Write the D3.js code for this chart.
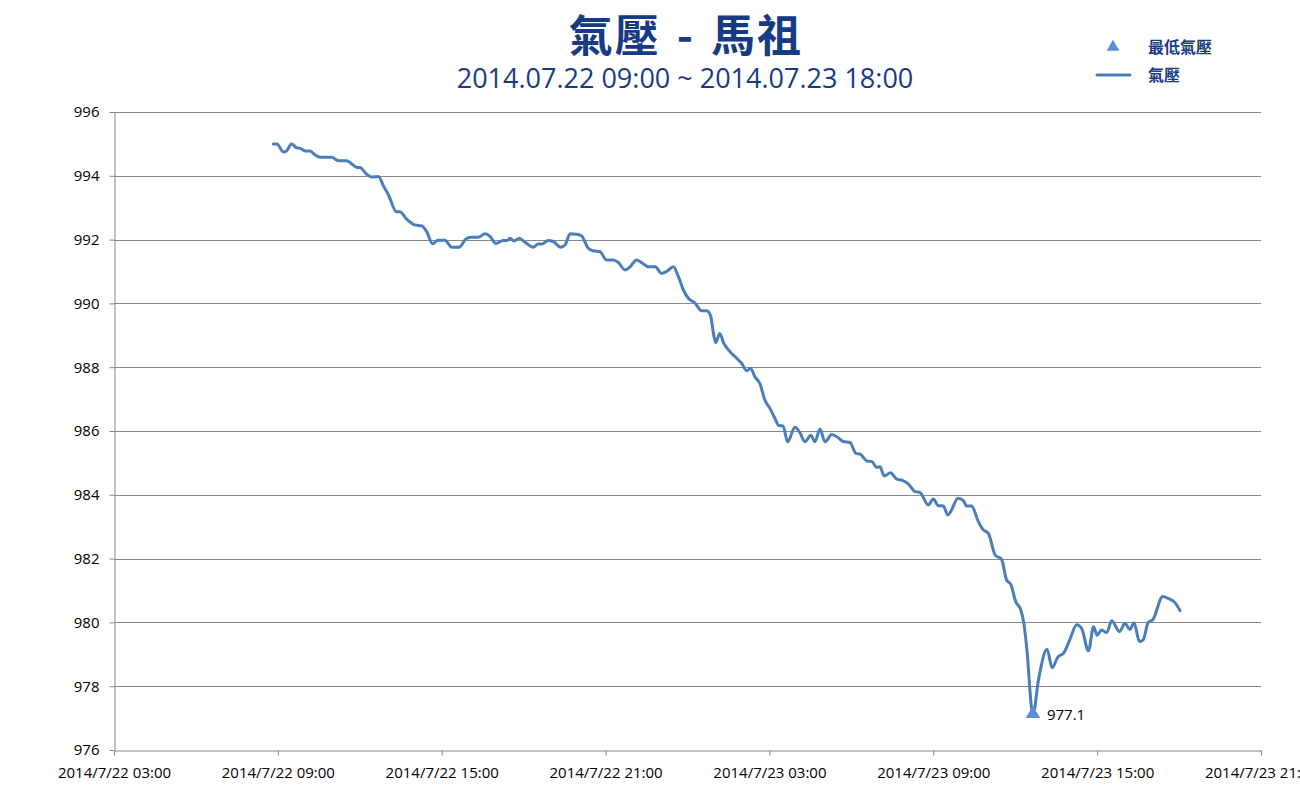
<!DOCTYPE html>
<html>
<head>
<meta charset="utf-8">
<script src="https://cdn.jsdelivr.net/npm/d3@7"></script>
<style>
    body { margin: 0; background: #ffffff; }
    #chart { width: 1300px; height: 800px; }
</style>
</head>
<body>
<div id="chart"></div>
<script>

//--- Daten -------------------------------------------------------------------------------------------- //

var chartTitle = '氣壓 - 馬祖';
var chartSubtitle = '2014.07.22 09:00 ~ 2014.07.23 18:00';
var legendLabels = ['最低氣壓', '氣壓'];

var yTicks = [976, 978, 980, 982, 984, 986, 988, 990, 992, 994, 996];
var xTicks = ['2014-07-22 03:00', '2014-07-22 09:00', '2014-07-22 15:00', '2014-07-22 21:00',
              '2014-07-23 03:00', '2014-07-23 09:00', '2014-07-23 15:00', '2014-07-23 21:00'];

var times = [
    '2014-07-22 08:50','2014-07-22 08:58','2014-07-22 09:12','2014-07-22 09:19','2014-07-22 09:30','2014-07-22 09:41',
    '2014-07-22 09:49','2014-07-22 10:00','2014-07-22 10:11','2014-07-22 10:22','2014-07-22 10:33','2014-07-22 10:58',
    '2014-07-22 11:13','2014-07-22 11:31','2014-07-22 11:46','2014-07-22 11:54','2014-07-22 12:00','2014-07-22 12:15',
    '2014-07-22 12:26','2014-07-22 12:41','2014-07-22 12:52','2014-07-22 13:03','2014-07-22 13:21','2014-07-22 13:28',
    '2014-07-22 13:43','2014-07-22 14:01','2014-07-22 14:16','2014-07-22 14:27','2014-07-22 14:40','2014-07-22 14:52',
    '2014-07-22 15:07','2014-07-22 15:22','2014-07-22 15:38','2014-07-22 15:55','2014-07-22 16:06','2014-07-22 16:20',
    '2014-07-22 16:35','2014-07-22 16:46','2014-07-22 16:59','2014-07-22 17:15','2014-07-22 17:23','2014-07-22 17:30',
    '2014-07-22 17:39','2014-07-22 17:50','2014-07-22 18:03','2014-07-22 18:21','2014-07-22 18:32','2014-07-22 18:40',
    '2014-07-22 18:54','2014-07-22 19:05','2014-07-22 19:21','2014-07-22 19:31','2014-07-22 19:42','2014-07-22 19:56',
    '2014-07-22 20:07','2014-07-22 20:22','2014-07-22 20:33','2014-07-22 20:48','2014-07-22 21:02','2014-07-22 21:17',
    '2014-07-22 21:28','2014-07-22 21:43','2014-07-22 21:54','2014-07-22 22:08','2014-07-22 22:19','2014-07-22 22:34',
    '2014-07-22 22:49','2014-07-22 23:03','2014-07-22 23:14','2014-07-22 23:29','2014-07-22 23:40','2014-07-22 23:51',
    '2014-07-23 00:02','2014-07-23 00:16','2014-07-23 00:31','2014-07-23 00:42','2014-07-23 00:51','2014-07-23 00:57',
    '2014-07-23 01:02','2014-07-23 01:11','2014-07-23 01:19','2014-07-23 01:33','2014-07-23 01:48','2014-07-23 01:59',
    '2014-07-23 02:10','2014-07-23 02:19','2014-07-23 02:28','2014-07-23 02:39','2014-07-23 02:50','2014-07-23 03:01',
    '2014-07-23 03:12','2014-07-23 03:21','2014-07-23 03:30','2014-07-23 03:40','2014-07-23 03:56','2014-07-23 04:07',
    '2014-07-23 04:18','2014-07-23 04:31','2014-07-23 04:40','2014-07-23 04:51','2014-07-23 05:02','2014-07-23 05:17',
    '2014-07-23 05:31','2014-07-23 05:42','2014-07-23 05:57','2014-07-23 06:10','2014-07-23 06:20','2014-07-23 06:34',
    '2014-07-23 06:45','2014-07-23 06:56','2014-07-23 07:03','2014-07-23 07:12','2014-07-23 07:26','2014-07-23 07:40',
    '2014-07-23 07:51','2014-07-23 08:05','2014-07-23 08:20','2014-07-23 08:31','2014-07-23 08:49','2014-07-23 09:00',
    '2014-07-23 09:11','2014-07-23 09:22','2014-07-23 09:32','2014-07-23 09:55','2014-07-23 10:06','2014-07-23 10:13',
    '2014-07-23 10:24','2014-07-23 10:39','2014-07-23 10:50','2014-07-23 11:01','2014-07-23 11:16','2014-07-23 11:30',
    '2014-07-23 11:41','2014-07-23 11:50','2014-07-23 12:02','2014-07-23 12:11','2014-07-23 12:19','2014-07-23 12:25',
    '2014-07-23 12:39','2014-07-23 12:51','2014-07-23 13:10','2014-07-23 13:21','2014-07-23 13:34','2014-07-23 13:46',
    '2014-07-23 13:59','2014-07-23 14:15','2014-07-23 14:26','2014-07-23 14:41','2014-07-23 14:52','2014-07-23 15:00',
    '2014-07-23 15:10','2014-07-23 15:21','2014-07-23 15:32','2014-07-23 15:49','2014-07-23 16:01','2014-07-23 16:12',
    '2014-07-23 16:21','2014-07-23 16:33','2014-07-23 16:41','2014-07-23 16:52','2014-07-23 17:03','2014-07-23 17:24',
    '2014-07-23 17:36','2014-07-23 17:51','2014-07-23 18:02'
];

var pressure = [
    995.00, 995.00, 994.75, 994.78, 995.00, 994.88,
    994.86, 994.78, 994.78, 994.65, 994.58, 994.58,
    994.47, 994.47, 994.33, 994.26, 994.26, 994.05,
    993.96, 993.98, 993.68, 993.40, 992.87, 992.87,
    992.64, 992.46, 992.43, 992.25, 991.87, 991.98,
    991.98, 991.76, 991.76, 992.04, 992.07, 992.07,
    992.18, 992.10, 991.88, 991.97, 991.97, 992.04,
    991.96, 992.04, 991.92, 991.76, 991.86, 991.86,
    991.97, 991.94, 991.76, 991.83, 992.18, 992.17,
    992.12, 991.73, 991.65, 991.62, 991.36, 991.36,
    991.28, 991.05, 991.15, 991.36, 991.28, 991.15,
    991.15, 990.94, 991.00, 991.15, 990.84, 990.42,
    990.16, 990.02, 989.77, 989.77, 989.60, 989.06,
    988.77, 989.06, 988.77, 988.49, 988.28, 988.12,
    987.89, 987.96, 987.70, 987.49, 986.97, 986.71,
    986.40, 986.17, 986.16, 985.66, 986.12, 985.95,
    985.66, 985.87, 985.66, 986.06, 985.66, 985.89,
    985.79, 985.67, 985.64, 985.30, 985.27, 985.06,
    985.04, 984.86, 984.88, 984.59, 984.69, 984.49,
    984.46, 984.34, 984.10, 984.07, 983.68, 983.87,
    983.66, 983.65, 983.37, 983.89, 983.82, 983.65,
    983.65, 983.16, 982.90, 982.79, 982.11, 981.98,
    981.33, 981.20, 980.62, 980.44, 979.97, 979.24,
    977.10, 978.19, 979.16, 978.58, 978.92, 979.03,
    979.42, 979.93, 979.81, 979.11, 979.86, 979.60,
    979.76, 979.68, 980.05, 979.71, 979.97, 979.78,
    979.99, 979.40, 979.45, 979.99, 980.10, 980.81,
    980.75, 980.62, 980.37
];

var Config = {
    Width: 1300,
    Height: 800,
    PlotLeft: 114,
    PlotRight: 1261,
    PlotTop: 112,
    PlotBottom: 750,
    LineColor: '#4A7EBB',
    MarkerColor: '#5B8ED6',
    TitleColor: '#173A84',
    GridColor: '#878787'
};

//--- Chart zeichnen ----------------------------------------------------------------------------------- //

function renderChart() {

    var parseTime = d3.timeParse('%Y-%m-%d %H:%M');
    var data = times.map(function (t, i) {
        return { time: parseTime(t), value: pressure[i] };
    });
    var tickDates = xTicks.map(parseTime);

    var svg = d3.select('#chart').append('svg')
        .attr('width', Config.Width)
        .attr('height', Config.Height)
        .attr('viewBox', '0 0 ' + Config.Width + ' ' + Config.Height);

    var x = d3.scaleTime()
        .domain([tickDates[0], tickDates[tickDates.length - 1]])
        .range([Config.PlotLeft, Config.PlotRight]);

    var y = d3.scaleLinear()
        .domain([yTicks[0], yTicks[yTicks.length - 1]])
        .range([Config.PlotBottom, Config.PlotTop]);

    // Gitterlinien
    svg.append('g')
        .attr('class', 'grid')
        .selectAll('line')
        .data(yTicks.slice(1))
        .enter().append('line')
        .attr('x1', Config.PlotLeft)
        .attr('x2', Config.PlotRight)
        .attr('y1', function (d) { return Math.round(y(d)) + 0.5; })
        .attr('y2', function (d) { return Math.round(y(d)) + 0.5; })
        .attr('stroke', Config.GridColor)
        .attr('stroke-width', 1);

    // Y-Achse
    var yAxis = svg.append('g')
        .attr('transform', 'translate(' + (Config.PlotLeft + 0.5) + ',0)')
        .call(d3.axisLeft(y).tickValues(yTicks).tickSize(5).tickPadding(10).tickSizeOuter(0));

    // X-Achse
    var xAxis = svg.append('g')
        .attr('transform', 'translate(0,' + (Config.PlotBottom + 0.5) + ')')
        .call(d3.axisBottom(x).tickValues(tickDates).tickSize(5).tickPadding(8).tickSizeOuter(0)
            .tickFormat(d3.timeFormat('%Y/%-m/%d %H:%M')));

    [yAxis, xAxis].forEach(function (ax) {
        ax.select('.domain').attr('stroke', Config.GridColor);
        ax.selectAll('.tick line').attr('stroke', Config.GridColor);
        ax.selectAll('.tick text')
            .attr('fill', '#000000')
            .attr('font-family', 'Open Sans, sans-serif')
            .attr('font-size', '15px');
    });
    xAxis.selectAll('.tick text').attr('dy', '0.95em');

    // Linie
    var line = d3.line()
        .x(function (d) { return x(d.time); })
        .y(function (d) { return y(d.value); })
        .curve(d3.curveMonotoneX);

    svg.append('path')
        .datum(data)
        .attr('fill', 'none')
        .attr('stroke', Config.LineColor)
        .attr('stroke-width', 3)
        .attr('stroke-linejoin', 'round')
        .attr('stroke-linecap', 'round')
        .attr('d', line);

    // Minimum
    var minPoint = data.reduce(function (a, b) { return b.value < a.value ? b : a; });
    var tri = d3.symbol().type(d3.symbolTriangle).size(90);

    svg.append('path')
        .attr('d', tri())
        .attr('fill', Config.MarkerColor)
        .attr('transform', 'translate(' + x(minPoint.time) + ',' + (y(minPoint.value) - 1) + ')');

    svg.append('text')
        .attr('x', x(minPoint.time) + 14)
        .attr('y', y(minPoint.value) + 5)
        .attr('font-family', 'Open Sans, sans-serif')
        .attr('font-size', '15px')
        .attr('fill', '#000000')
        .text(minPoint.value.toFixed(1));

    // Titel
    svg.append('text')
        .attr('x', 686)
        .attr('y', 52)
        .attr('text-anchor', 'middle')
        .attr('font-family', 'Noto Sans CJK TC, sans-serif')
        .attr('font-weight', 'bold')
        .attr('font-size', '44px')
        .attr('letter-spacing', '2px')
        .attr('word-spacing', '4px')
        .attr('fill', Config.TitleColor)
        .text(chartTitle);

    svg.append('text')
        .attr('x', 685)
        .attr('y', 88)
        .attr('text-anchor', 'middle')
        .attr('font-family', 'Open Sans, sans-serif')
        .attr('font-size', '27px')
        .attr('fill', Config.TitleColor)
        .text(chartSubtitle);

    // Legende
    var legend = svg.append('g').attr('id', 'legend');

    legend.append('path')
        .attr('d', d3.symbol().type(d3.symbolTriangle).size(70)())
        .attr('fill', Config.MarkerColor)
        .attr('transform', 'translate(1113,47)');

    legend.append('line')
        .attr('x1', 1097).attr('x2', 1130)
        .attr('y1', 75).attr('y2', 75)
        .attr('stroke', Config.LineColor)
        .attr('stroke-width', 3)
        .attr('stroke-linecap', 'round');

    legend.selectAll('text')
        .data(legendLabels)
        .enter().append('text')
        .attr('x', 1148)
        .attr('y', function (d, i) { return 53 + i * 28; })
        .attr('font-family', 'Noto Sans CJK TC, sans-serif')
        .attr('font-weight', 'bold')
        .attr('font-size', '16px')
        .attr('fill', Config.TitleColor)
        .text(function (d) { return d; });
}

renderChart();

</script>
</body>
</html>
